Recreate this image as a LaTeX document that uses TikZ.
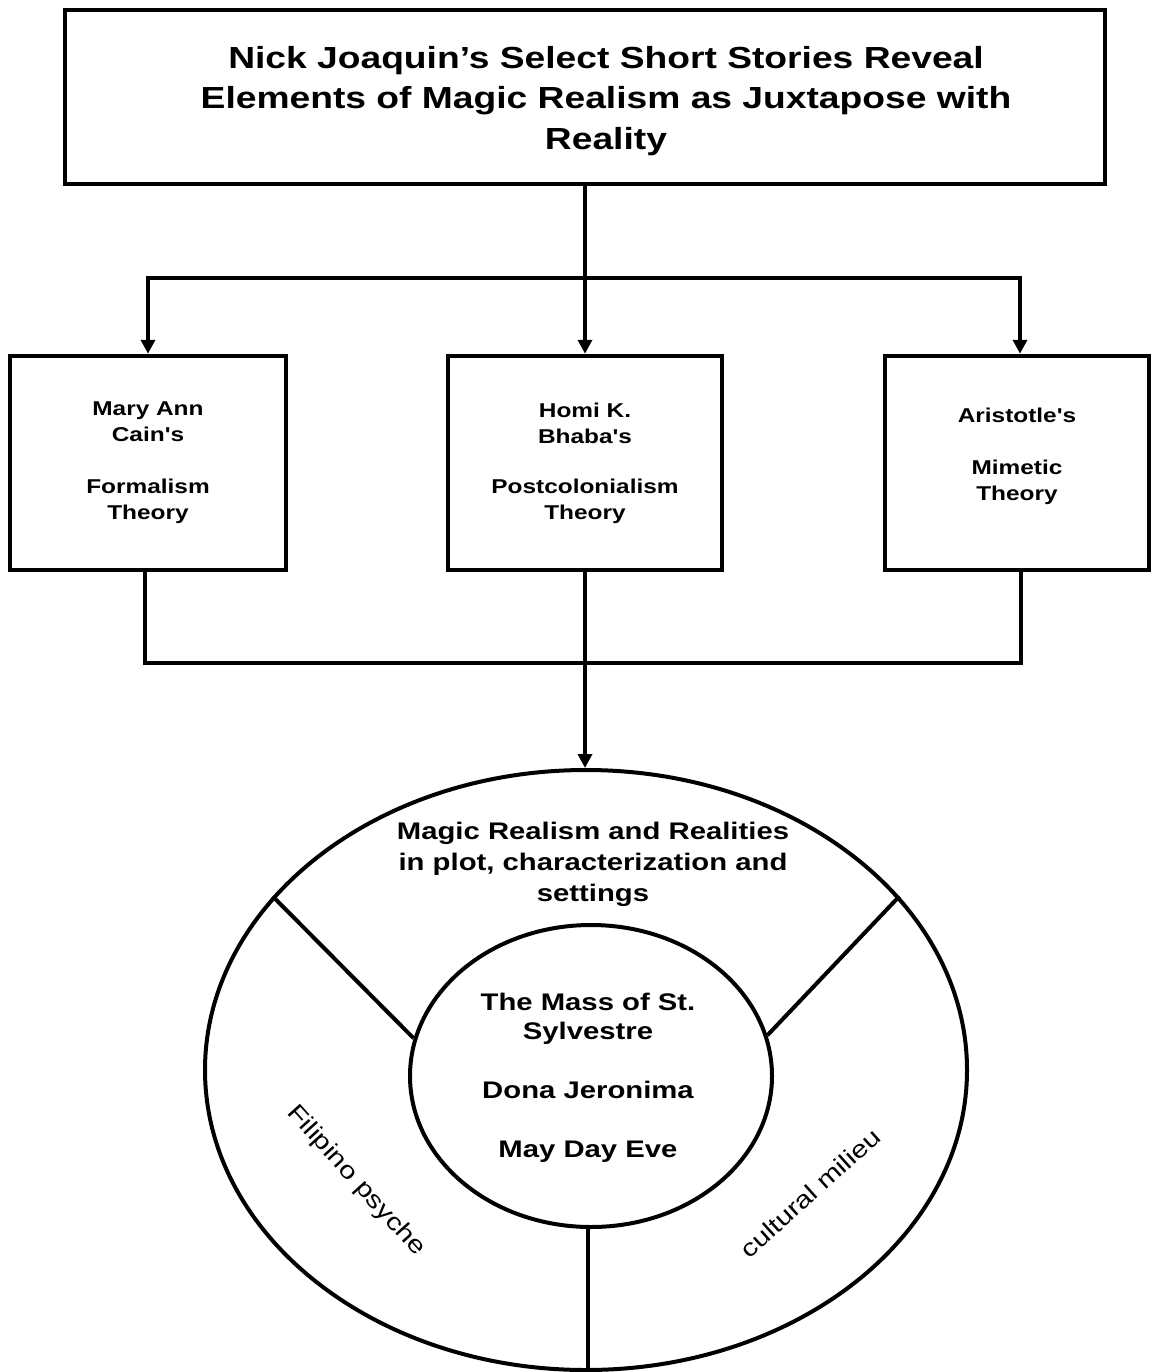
\documentclass[tikz,border=0pt]{standalone}
\usepackage{fontspec}
\newfontfamily\rsans[FakeStretch=1.22]{Liberation Sans}
\usetikzlibrary{shapes.geometric,arrows.meta}
\begin{document}
\begin{tikzpicture}[x=1pt,y=-1pt,
  boxst/.style={draw,line width=4.5pt,inner sep=0pt,align=center,font=\rsans\bfseries\fontsize{20}{26}\selectfont},
  conn/.style={line width=4pt},
  arr/.style={conn,-{Triangle[length=14pt,width=14pt]}},
  ell/.style={draw,ellipse,line width=4pt,inner sep=0pt},
  txt/.style={align=center,inner sep=0pt}]
\useasboundingbox (0,0) rectangle (1151,1372);
\fill[white] (0,0) rectangle (1151,1372);
\node[boxst,minimum width=1040pt,minimum height=174pt] (title) at (585,97) {};
\node[txt,font=\rsans\bfseries\fontsize{30.5}{40.5}\selectfont] (titletext) at (606,101)
  {Nick Joaquin’s Select Short Stories Reveal\\Elements of Magic Realism as Juxtapose with\\Reality};
\node[boxst,minimum width=276pt,minimum height=214pt] (left) at (148,463)
  {Mary Ann\\Cain's\\[26pt]Formalism\\Theory};
\node[boxst,minimum width=274pt,minimum height=214pt] (mid) at (585,463)
  {Homi K.\\Bhaba's\\[24pt]Postcolonialism\\Theory};
\node[boxst,minimum width=264pt,minimum height=214pt] (right) at (1017,463) {};
\node[txt,font=\rsans\bfseries\fontsize{20}{26}\selectfont] (righttext) at (1017,456)
  {Aristotle's\\[26pt]Mimetic\\Theory};
\node[ell,minimum width=762pt,minimum height=600pt] (outer) at (586,1070) {};
\node[ell,minimum width=362pt,minimum height=302pt] (inner) at (591,1076) {};
\node[txt,font=\rsans\bfseries\fontsize{24}{29.5}\selectfont] (innertext) at (588,1078)
  {The Mass of St.\\Sylvestre\\[29.5pt]Dona Jeronima\\[29.5pt]May Day Eve};
\node[txt,font=\rsans\bfseries\fontsize{24}{31}\selectfont] (mr) at (593,864)
  {Magic Realism and Realities\\in plot, characterization and\\settings};
\node[txt,rotate=-48,font=\rsans\fontsize{24}{29}\selectfont] (fp) at (356,1181) {Filipino psyche};
\node[txt,rotate=42,font=\rsans\fontsize{24}{29}\selectfont] (cm) at (810,1193) {cultural milieu};
\coordinate (tj) at (585,278);
\coordinate (bj) at (585,663);
\draw[conn] (title.south) -- (tj);
\draw[arr] (tj) -- (mid.north);
\draw[arr] (tj) -| (left.north);
\draw[arr] (tj) -| ([xshift=3pt]right.north);
\draw[conn] ([xshift=-3pt]left.south) |- (bj) -| ([xshift=4pt]right.south);
\draw[arr] (mid.south) -- (mid.south |- outer.north);
\draw[conn] (outer.151) -- (inner.168);
\draw[conn] (outer.29) -- (inner.13);
\draw[conn] ([xshift=-3pt]inner.south) -- ([xshift=-3pt]inner.south |- outer.south);
\end{tikzpicture}
\end{document}
